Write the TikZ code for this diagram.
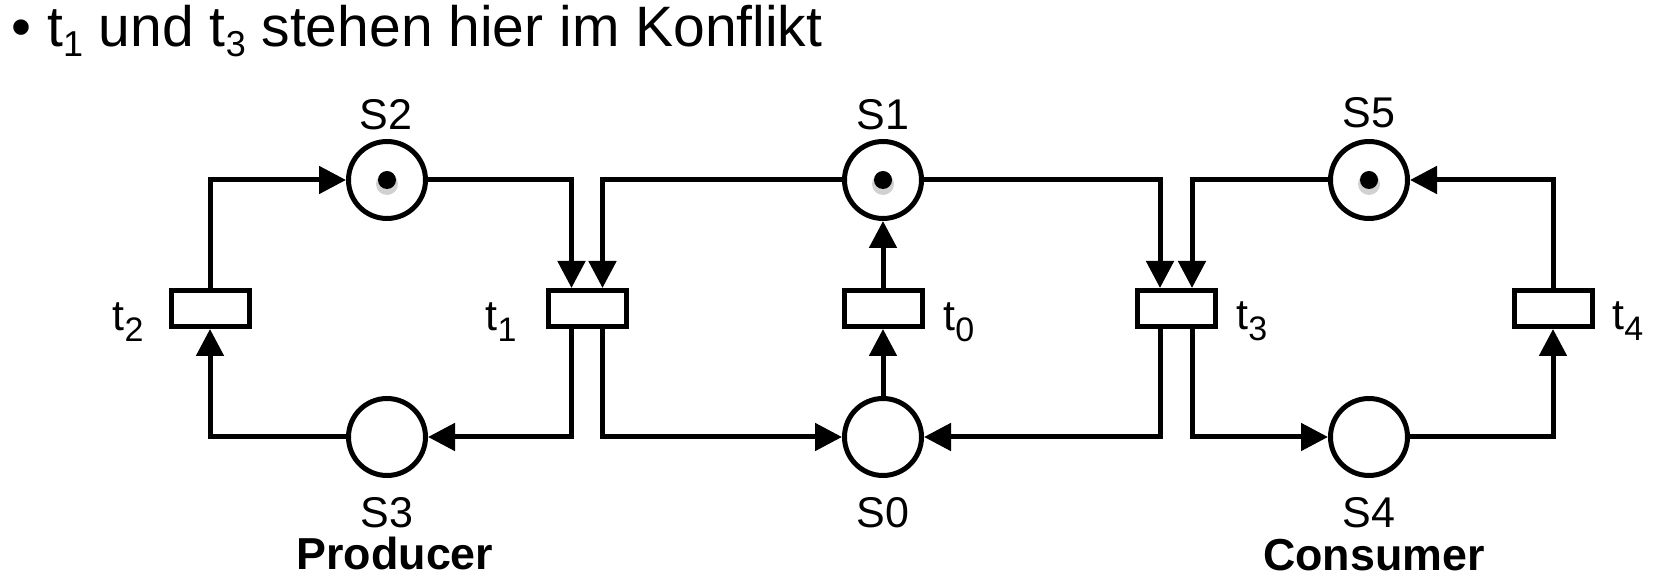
\documentclass[tikz,border=0pt]{standalone}
\usepackage{fontspec}
\setmainfont{Liberation Sans}
\usetikzlibrary{arrows.meta,calc}
\newcommand\lsub[1]{\raisebox{-5.5pt}{\fontsize{17}{17}\selectfont #1}}
\newcommand\tsub[1]{\raisebox{-5pt}{\fontsize{18}{18}\selectfont #1}}
\begin{document}
\begin{tikzpicture}[x=0.5pt,y=-0.5pt,line width=2.5pt,
  place/.style={draw,circle,minimum size=38.5pt,inner sep=0pt,fill=white},
  trans/.style={draw,rectangle,minimum width=39pt,minimum height=18pt,inner sep=0pt,fill=white},
  arc/.style={-{Triangle[length=13.5pt,width=13.5pt]}},
  lbl/.style={inner sep=0pt,font=\fontsize{21.5}{21.5}\selectfont},
  role/.style={inner sep=0pt,font=\fontsize{22.4}{22.4}\selectfont\bfseries},
  tok/.style={fill=black}
]
\useasboundingbox (0,0) rectangle (1662,582);

\node[anchor=base west,inner sep=0pt,font=\fontsize{28.5}{28.5}\selectfont] (title) at (9,47) {• t\tsub{1} und t\tsub{3} stehen hier im Konflikt};

% places
\node[place] (S2) at (387,180) {};
\node[place] (S3) at (387,437) {};
\node[place] (S1) at (883,180) {};
\node[place] (S0) at (883,437) {};
\node[place] (S5) at (1369,180) {};
\node[place] (S4) at (1369,437) {};

% tokens
\foreach \p in {S2,S1,S5}{
  \fill[black!18] ([yshift=-2pt]\p.center) circle (5.5pt);
  \fill[tok] (\p.center) circle (4.5pt);
}

% transitions
\node[trans] (t2) at (210,308.5) {};
\node[trans] (t1) at (587,308.5) {};
\node[trans] (t0) at (883,308.5) {};
\node[trans] (t3) at (1176,308.5) {};
\node[trans] (t4) at (1553,308.5) {};

% labels
\node[lbl,anchor=base] (lS2) at (386,130) {S2};
\node[lbl,anchor=base] (lS1) at (883,130) {S1};
\node[lbl,anchor=base] (lS5) at (1369,128) {S5};
\node[lbl,anchor=base] (lS3) at (387,528) {S3};
\node[lbl,anchor=base] (lS0) at (883,528) {S0};
\node[lbl,anchor=base] (lS4) at (1369,528) {S4};
\node[role,anchor=base] (prod) at (395,570) {Producer};
\node[role,anchor=base] (cons) at (1374,571) {Consumer};

\node[lbl,anchor=base east] (lt2) at (146,331) {t\lsub{2}};
\node[lbl,anchor=base east] (lt1) at (519,331) {t\lsub{1}};
\node[lbl,anchor=base west] (lt0) at (941,331) {t\lsub{0}};
\node[lbl,anchor=base west] (lt3) at (1234,330) {t\lsub{3}};
\node[lbl,anchor=base west] (lt4) at (1610,330) {t\lsub{4}};

% producer
\draw[arc] (t2.north) |- (S2.west);
\draw[arc] (S3.west) -| (t2.south);
\draw[arc] (S2.east) -| ([xshift=-7.75pt]t1.north);
\draw[arc] (S1.west) -| ([xshift=7.75pt]t1.north);
\draw[arc] ([xshift=-7.75pt]t1.south) |- (S3.east);
\draw[arc] ([xshift=7.75pt]t1.south) |- (S0.west);

% middle
\draw[arc] (S0.north) -- (t0.south);
\draw[arc] (t0.north) -- (S1.south);

% consumer
\draw[arc] (S1.east) -| ([xshift=-8pt]t3.north);
\draw[arc] (S5.west) -| ([xshift=8pt]t3.north);
\draw[arc] ([xshift=-8pt]t3.south) |- (S0.east);
\draw[arc] ([xshift=8pt]t3.south) |- (S4.west);
\draw[arc] (S4.east) -| (t4.south);
\draw[arc] (t4.north) |- (S5.east);
\end{tikzpicture}
\end{document}
